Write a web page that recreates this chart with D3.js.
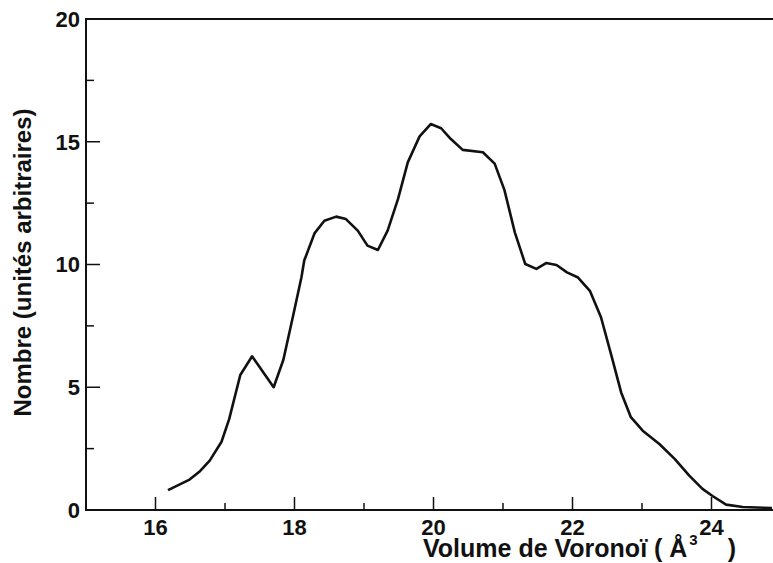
<!DOCTYPE html>
<html>
<head>
<meta charset="utf-8">
<script src="https://cdn.jsdelivr.net/npm/d3@7"></script>
<style>
  body { margin: 0; background: #fff; }
  svg { display: block; font-family: "Liberation Sans", Arial, Helvetica, sans-serif; }
</style>
</head>
<body>
<div id="chart"></div>
<script>
// values
const volume = [16.18, 16.49, 16.64, 16.78, 16.95, 17.06, 17.22, 17.39, 17.70, 17.84,
  17.98, 18.10, 18.14, 18.29, 18.43, 18.60, 18.74, 18.91, 19.05, 19.20,
  19.34, 19.49, 19.63, 19.80, 19.96, 20.11, 20.25, 20.42, 20.71, 20.88,
  21.02, 21.17, 21.32, 21.48, 21.62, 21.77, 21.92, 22.08, 22.25, 22.41,
  22.56, 22.70, 22.84, 23.01, 23.25, 23.47, 23.68, 23.87, 24.02, 24.21,
  24.45, 24.87];
const nombre = [0.81, 1.24, 1.58, 2.01, 2.78, 3.70, 5.50, 6.26, 5.00, 6.12,
  7.91, 9.48, 10.16, 11.28, 11.78, 11.95, 11.85, 11.38, 10.77, 10.59,
  11.38, 12.67, 14.16, 15.22, 15.72, 15.55, 15.11, 14.67, 14.57, 14.11,
  13.04, 11.31, 10.02, 9.82, 10.06, 9.98, 9.68, 9.47, 8.93, 7.85,
  6.29, 4.79, 3.78, 3.23, 2.69, 2.08, 1.40, 0.86, 0.56, 0.22,
  0.12, 0.08];
const xMajor = [16, 18, 20, 22, 24];
const xMinor = [17, 19, 21, 23];
const yMajor = [0, 5, 10, 15, 20];
const yMinor = [2.5, 7.5, 12.5, 17.5];

const width = 773;
const height = 563;
const margin = { top: 19, right: -8, bottom: 53, left: 86 };

const x = d3.scaleLinear()
  .domain([15, 25])
  .range([margin.left, width - margin.right]);

const y = d3.scaleLinear()
  .domain([0, 20])
  .range([height - margin.bottom, margin.top]);

const svg = d3.select("#chart")
  .append("svg")
  .attr("width", width)
  .attr("height", height);

const ink = "#111";

// frame: left, top, bottom
svg.append("path")
  .attr("fill", "none")
  .attr("stroke", ink)
  .attr("stroke-width", 2)
  .attr("d", `M${width},${y(20)}H${x(15)}V${y(0)}H${width}`);

// x ticks (inward)
svg.append("g")
  .attr("stroke", ink)
  .attr("stroke-width", 1.5)
  .selectAll("line")
  .data(xMajor.map((v) => ({ v, len: 13 })).concat(xMinor.map((v) => ({ v, len: 7 }))))
  .join("line")
  .attr("x1", (d) => x(d.v))
  .attr("x2", (d) => x(d.v))
  .attr("y1", y(0))
  .attr("y2", (d) => y(0) - d.len);

// y ticks (inward)
svg.append("g")
  .attr("stroke", ink)
  .attr("stroke-width", 1.5)
  .selectAll("line")
  .data(yMajor.map((v) => ({ v, len: 14 })).concat(yMinor.map((v) => ({ v, len: 8 }))))
  .join("line")
  .attr("x1", x(15))
  .attr("x2", (d) => x(15) + d.len)
  .attr("y1", (d) => y(d.v))
  .attr("y2", (d) => y(d.v));

// tick labels
svg.append("g")
  .selectAll("text")
  .data(xMajor)
  .join("text")
  .attr("x", (d) => x(d))
  .attr("y", y(0) + 25)
  .attr("text-anchor", "middle")
  .attr("font-size", 22)
  .attr("font-weight", "bold")
  .attr("fill", ink)
  .text((d) => d);

svg.append("g")
  .selectAll("text")
  .data(yMajor)
  .join("text")
  .attr("x", x(15) - 6)
  .attr("y", (d) => y(d))
  .attr("dy", "0.36em")
  .attr("text-anchor", "end")
  .attr("font-size", 22)
  .attr("font-weight", "bold")
  .attr("fill", ink)
  .text((d) => d);

// axis titles
const xTitle = svg.append("text")
  .attr("x", 423)
  .attr("y", 557)
  .attr("font-size", 25)
  .attr("font-weight", "bold")
  .attr("fill", ink);
xTitle.append("tspan").text("Volume de Voronoï ( Å");
xTitle.append("tspan").attr("dy", -12).attr("dx", 2).attr("font-size", 15).text("3");
xTitle.append("tspan").attr("dy", 12).attr("dx", 30).text(")");

svg.append("text")
  .attr("transform", `translate(31,${y(10) - 2}) rotate(-90)`)
  .attr("text-anchor", "middle")
  .attr("font-size", 24)
  .attr("font-weight", "bold")
  .attr("fill", ink)
  .text("Nombre (unités arbitraires)");

// the distribution curve
const line = d3.line()
  .x((d, i) => x(volume[i]))
  .y((d) => y(d));

svg.append("path")
  .datum(nombre)
  .attr("fill", "none")
  .attr("stroke", ink)
  .attr("stroke-width", 2.6)
  .attr("stroke-linejoin", "round")
  .attr("d", line);
</script>
</body>
</html>
